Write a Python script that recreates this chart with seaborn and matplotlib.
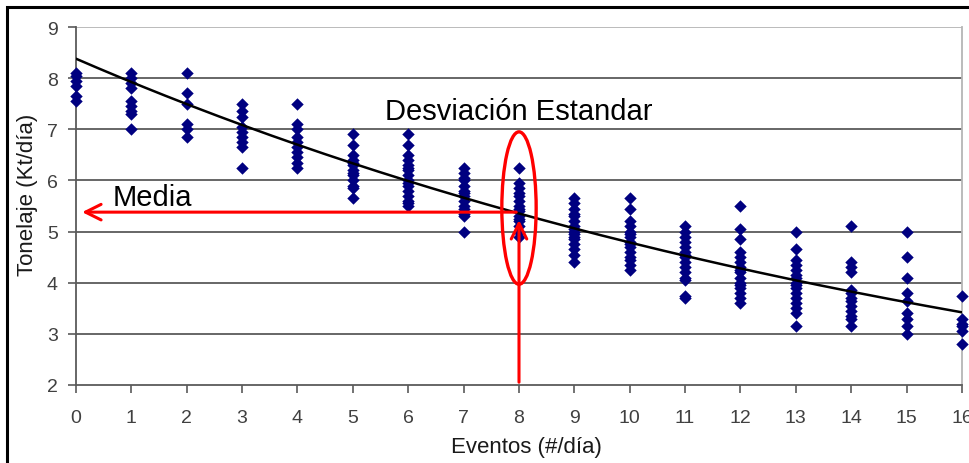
import numpy as np
import pandas as pd
import matplotlib
matplotlib.use("Agg")
import matplotlib.pyplot as plt
import seaborn as sns
from matplotlib.patches import Ellipse, Rectangle

# ---- data ----
events = list(range(17))
tonnage = [
    [8.1, 8.05, 7.95, 7.85, 7.65, 7.55],
    [8.1, 8.0, 7.9, 7.8, 7.55, 7.45, 7.35, 7.3, 7.0],
    [8.1, 7.7, 7.5, 7.1, 7.0, 6.85],
    [7.5, 7.35, 7.25, 7.05, 6.95, 6.85, 6.75, 6.65, 6.25],
    [7.5, 7.1, 7.0, 6.85, 6.75, 6.65, 6.55, 6.45, 6.35, 6.25],
    [6.9, 6.7, 6.5, 6.4, 6.35, 6.3, 6.2, 6.15, 6.1, 6.0, 5.9, 5.85, 5.65],
    [6.9, 6.7, 6.5, 6.4, 6.3, 6.25, 6.2, 6.1, 6.0, 5.95, 5.9, 5.8, 5.7, 5.6, 5.55, 5.5],
    [6.25, 6.15, 6.05, 6.0, 5.9, 5.8, 5.75, 5.7, 5.6, 5.5, 5.45, 5.35, 5.3, 5.0],
    [6.25, 5.95, 5.85, 5.75, 5.7, 5.6, 5.5, 5.45, 5.4, 5.3, 5.25, 5.2, 5.1, 5.0, 4.9],
    [5.65, 5.55, 5.45, 5.35, 5.3, 5.2, 5.1, 5.05, 5.0, 4.95, 4.9, 4.85, 4.75, 4.65, 4.55, 4.4],
    [5.65, 5.45, 5.2, 5.1, 5.0, 4.95, 4.9, 4.8, 4.75, 4.7, 4.6, 4.5, 4.45, 4.35, 4.25],
    [5.1, 5.0, 4.9, 4.8, 4.7, 4.6, 4.55, 4.5, 4.4, 4.3, 4.2, 4.1, 4.05, 3.75, 3.7],
    [5.5, 5.05, 4.85, 4.6, 4.5, 4.4, 4.3, 4.25, 4.2, 4.1, 4.0, 3.95, 3.9, 3.8, 3.7, 3.6],
    [5.0, 4.65, 4.45, 4.35, 4.25, 4.15, 4.1, 4.0, 3.95, 3.9, 3.8, 3.7, 3.6, 3.5, 3.4, 3.15],
    [5.1, 4.4, 4.3, 4.2, 3.85, 3.8, 3.7, 3.65, 3.55, 3.45, 3.35, 3.3, 3.15],
    [5.0, 4.5, 4.1, 3.8, 3.65, 3.4, 3.3, 3.15, 3.0],
    [3.75, 3.3, 3.2, 3.15, 3.05, 2.8],
]
# exponential trend line: y = a * exp(b * x)
trend_a = 8.38
trend_b = -0.0560
x_ticks = list(range(17))
y_ticks = [2, 3, 4, 5, 6, 7, 8, 9]
mean_value = 5.38
ellipse_low, ellipse_high = 3.97, 6.95
x_label = "Eventos (#/día)"
y_label = "Tonelaje (Kt/día)"
label_media = "Media"
label_sd = "Desviación Estandar"

rows = [(e, v) for e, vals in zip(events, tonnage) for v in vals]
df = pd.DataFrame(rows, columns=["eventos", "tonelaje"])

sns.set_theme(style="white")
plt.rcParams["font.family"] = ["Liberation Sans", "DejaVu Sans"]

fig = plt.figure(figsize=(9.7, 4.64), dpi=100)
ax = fig.add_axes([76 / 970, 1 - 386 / 464, (962 - 76) / 970, (386 - 28) / 464])

# gridlines
for yv in y_ticks[1:-1]:
    ax.axhline(yv, color="#5a5a5a", lw=1.3, zorder=1)
ax.axhline(y_ticks[-1], color="#b5b5b5", lw=1.3, zorder=1)

sns.scatterplot(data=df, x="eventos", y="tonelaje", marker="D", s=40,
                color="#000080", edgecolor="#000080", linewidth=0, ax=ax,
                zorder=3, clip_on=False)

# trend line
xs = np.linspace(0, 16, 200)
sns.lineplot(x=xs, y=trend_a * np.exp(trend_b * xs), color="black", lw=1.8,
             ax=ax, zorder=4)

ax.set_xlim(0, 16)
ax.set_ylim(2, 9)
ax.set_xticks(x_ticks)
ax.set_yticks(y_ticks)
ax.tick_params(axis="both", direction="out", length=6, width=1.2,
               color="#5a5a5a", labelsize=14, labelcolor="#404040",
               bottom=True, left=True)
ax.tick_params(axis="x", pad=11)
ax.tick_params(axis="y", pad=7)
ax.set_xlabel(x_label, fontsize=16, color="#1a1a1a")
ax.set_ylabel(y_label, fontsize=16, color="#1a1a1a")
ax.xaxis.set_label_coords(0.508, -0.142)
ax.yaxis.set_label_coords(-0.043, 0.533)
for side in ["left", "bottom"]:
    ax.spines[side].set_color("#5a5a5a")
    ax.spines[side].set_linewidth(1.3)
ax.spines["top"].set_visible(False)
ax.spines["right"].set_color("#b5b5b5")
ax.spines["right"].set_linewidth(1.3)

# red annotations
ax.annotate("", xy=(0.06, mean_value), xytext=(8, mean_value),
            arrowprops=dict(arrowstyle="->", color="red", lw=2.2,
                            mutation_scale=28), zorder=5)
ax.annotate("", xy=(8, 5.28), xytext=(8, 2),
            arrowprops=dict(arrowstyle="->", color="red", lw=2.2,
                            mutation_scale=28), zorder=5, annotation_clip=False)
ax.add_patch(Ellipse((8, (ellipse_low + ellipse_high) / 2), width=0.62,
                     height=ellipse_high - ellipse_low, fill=False,
                     edgecolor="red", lw=2.4, zorder=5))
ax.text(0.67, 5.52, label_media, fontsize=21, color="black", va="baseline", ha="left")
ax.text(5.58, 7.21, label_sd, fontsize=21, color="black", va="baseline", ha="left")

# outer frame
fig.patches.append(Rectangle((7 / 970, -0.05), 1.2, 1 - 8 / 464 + 0.05,
                             transform=fig.transFigure, fill=False,
                             edgecolor="black", lw=2.2))

fig.savefig("out.png", dpi=100)
